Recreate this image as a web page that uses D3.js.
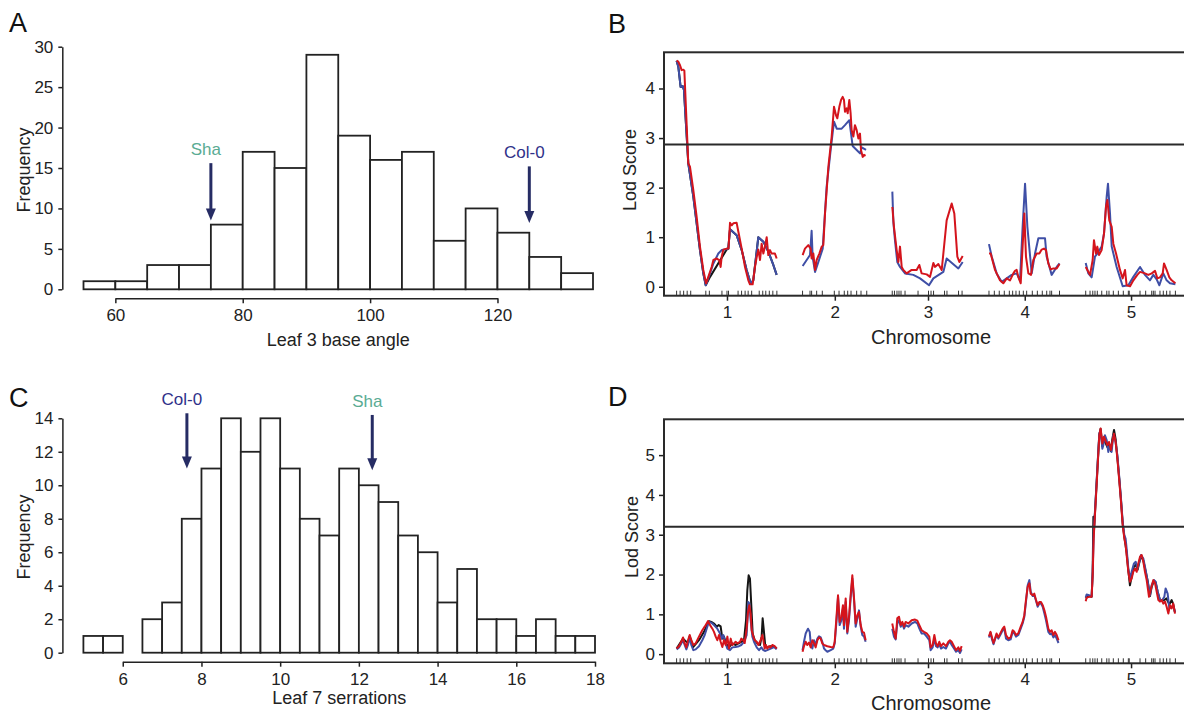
<!DOCTYPE html>
<html>
<head>
<meta charset="utf-8">
<script src="https://cdn.jsdelivr.net/npm/d3@7"></script>
<style>
  body { margin: 0; background: #fff; }
  svg { display: block; font-family: "Liberation Sans", Arial, Helvetica, sans-serif; }
</style>
</head>
<body>
<svg id="fig" width="1184" height="716"></svg>
<script>
// ---- histogram data ----
const angleBinStart = 55, angleBinWidth = 5;
const angleCounts = [1, 1, 3, 3, 8, 17, 15, 29, 19, 16, 17, 6, 10, 7, 4, 2];
const angleXTicks = [60, 80, 100, 120];
const angleYTicks = [0, 5, 10, 15, 20, 25, 30];
const angleArrows = [
  { name: "Sha", at: 75, from: 15.6, to: 8.5, color: "#5aab93" },
  { name: "Col-0", at: 125, from: 15.2, to: 8.2, color: "#2f3189" }
];

const serrBinStart = 5, serrBinWidth = 0.5;
const serrCounts = [1, 1, 0, 2, 3, 8, 11, 14, 12, 14, 11, 8, 7, 11, 10, 9, 7, 6, 3, 5, 2, 2, 1, 2, 1, 1];
const serrXTicks = [6, 8, 10, 12, 14, 16, 18];
const serrYTicks = [0, 2, 4, 6, 8, 10, 12, 14];
const serrArrows = [
  { name: "Col-0", at: 7.63, from: 14.3, to: 11.0, color: "#2f3189" },
  { name: "Sha", at: 12.34, from: 14.2, to: 10.9, color: "#5aab93" }
];

// ---- genetic map (cM) ----
const chrLen = [100, 64, 71, 71, 90];
const chrGap = 25;
const markers = [
  [0, 3.5, 7, 10.5, 14, 29, 32.5, 45, 50, 51.5, 61, 64.5, 68, 71, 74.5, 82, 85.5, 88.5, 92, 95.5, 99.5],
  [125, 132.4, 134, 139, 144.6, 156.5, 161.2, 166.4, 169.8, 173.1, 178.7, 183, 188.7],
  [214, 216.2, 218.7, 220.7, 222.7, 226.7, 239.6, 250, 252.5, 255, 265.9, 268.3, 279.8, 283.3],
  [310, 315.3, 320.2, 325.2, 330.2, 333.5, 336.8, 340.1, 344.1, 347.4, 353, 358, 362.9, 367.3, 370.5, 372.2, 380],
  [406, 410.3, 413, 415.2, 417.5, 421.9, 426.9, 429.1, 433.4, 438.4, 443.3, 448.3, 449.2, 459.9, 465.5, 471.5, 473.1, 474.8, 479.7, 483, 486.3, 489.6, 495]
];

// ---- LOD curves, panel B (per chromosome, [cM, LOD]) ----
const bBlack = [
  [[0,4.56],[1.7,4.44],[4,4.03],[6,4.05],[7.3,3.97],[11.6,2.49],[16.6,1.82],[19.9,1.28],[23.2,0.74],[26.5,0.27],[28.9,0.03],[33.2,0.2],[49.7,0.75],[51.3,0.77],[53,1.16],[59.6,1.04],[64.6,0.74],[69.5,0.34],[73.5,0.07],[76.1,0.13],[81.1,1.0],[86.1,0.91],[91,0.71],[96,0.44],[99.3,0.24]],
  [], [], [], []
];
const bBlue = [
  [[0,4.56],[1.7,4.44],[4,4.03],[6,4.05],[7.3,3.97],[11.6,2.49],[16.6,1.82],[19.9,1.28],[23.2,0.74],[26.5,0.27],[28.9,0.03],[33.2,0.27],[36.5,0.47],[41.4,0.67],[44.7,0.74],[48,0.75],[51.3,0.77],[53,1.16],[59.6,1.04],[64.6,0.74],[69.5,0.34],[73.5,0.07],[76.1,0.13],[81.1,1.0],[86.1,0.91],[91,0.71],[96,0.44],[99.3,0.24]],
  [[125.1,0.42],[129.1,0.54],[132.4,0.64],[134,1.13],[135,0.6],[137.4,0.3],[140.7,0.5],[145,0.77],[148.9,2.02],[152.9,2.76],[156.2,3.33],[158.9,3.19],[163.8,3.19],[167.1,3.26],[171.4,3.36],[174.7,2.84],[178.7,2.76],[182,2.69],[183.7,2.81],[188,2.76]],
  [[214.1,1.92],[215.1,1.31],[216.7,0.94],[219,0.5],[221.7,0.4],[226.7,0.27],[234.9,0.24],[241.6,0.17],[250.5,0.03],[254.8,0.17],[264.7,0.3],[268,0.57],[279.6,0.37],[283.9,0.5]],
  [[310,0.86],[312.7,0.61],[317.6,0.27],[322.6,0.1],[327.6,0.17],[332.5,0.24],[337.5,0.27],[340.8,0.13],[343.4,1.21],[345.8,2.08],[348.1,1.21],[352.4,0.27],[355.7,0.67],[359,0.98],[365.6,0.98],[367.2,0.61],[372.2,0.24],[377.2,0.4],[380,0.47]],
  [[406,0.48],[408.6,0.27],[411.9,0.19],[415.2,0.61],[417.5,0.67],[421.8,0.81],[424.2,1.08],[426.8,1.82],[428.1,2.08],[430.1,1.48],[431.8,0.81],[436.7,0.4],[442.7,0.01],[448.3,0.03],[453.3,0.2],[459.9,0.4],[464.8,0.24],[469.8,0.13],[473.1,0.24],[476.4,0.15],[479.1,0.03],[483,0.27],[486.3,0.13],[489.6,0.07],[495,0.05]]
];
const bRed = [
  [[0,4.56],[1.7,4.54],[3.4,4.47],[5,4.37],[6.7,4.38],[7.7,4.36],[11.6,2.49],[13.3,2.42],[16.6,1.95],[19.9,1.41],[23.2,0.81],[26.5,0.34],[29.2,0.07],[31.5,0.2],[34.8,0.4],[36.5,0.54],[39.8,0.57],[42.4,0.54],[43.7,0.4],[44.7,0.6],[46.4,0.75],[49.7,0.77],[51.5,0.77],[53,1.29],[54.7,1.24],[56.3,1.28],[59.6,1.29],[61.3,1.11],[64.6,0.77],[67.9,0.4],[71.2,0.13],[72.8,0.05],[75.5,0.05],[77.8,0.4],[79.5,0.6],[81.1,0.75],[82.8,0.54],[84.4,0.87],[86.1,0.67],[87.7,0.81],[89.4,1.0],[91,0.64],[92.7,0.74],[94.3,0.67],[97.6,0.67],[99.3,0.57]],
  [[125.1,0.64],[127.4,0.77],[130.7,0.84],[133,0.77],[134,0.57],[135.7,0.67],[137.4,0.34],[139,0.54],[141.7,0.67],[144,0.81],[145.6,0.84],[147.3,1.48],[150.6,2.42],[153.9,3.03],[156.2,3.63],[158.2,3.46],[159.5,3.4],[161.5,3.63],[163.2,3.77],[164.8,3.83],[166.1,3.77],[167.1,3.53],[168.8,3.6],[169.8,3.5],[171.4,3.77],[172.7,3.5],[173.7,3.16],[175.4,3.03],[177,3.26],[178.7,3.16],[180.4,2.99],[182,3.09],[183,2.76],[184.7,2.62],[186,2.66],[187.5,2.64]],
  [[214.1,1.61],[215.7,1.21],[218.4,0.74],[220.1,0.5],[221.7,0.81],[223.4,0.4],[225,0.34],[228.3,0.27],[233.3,0.34],[238.2,0.34],[240.9,0.44],[243.2,0.27],[248.2,0.25],[251.5,0.2],[254.8,0.48],[256.4,0.4],[259.7,0.46],[263.1,0.34],[268,1.34],[273,1.68],[275.6,1.48],[278.6,0.61],[280.6,0.5],[283.9,0.62]],
  [[310,0.67],[311.7,0.67],[316,0.34],[320.9,0.13],[324.2,0.07],[327.6,0.17],[330.9,0.13],[334.2,0.27],[335.8,0.32],[337.5,0.34],[339.1,0.2],[341.5,0.07],[343.4,0.81],[345.1,1.48],[346.7,0.61],[349.1,0.27],[351.7,0.24],[354,0.54],[357.3,0.67],[360,0.67],[362.3,0.75],[364.6,0.77],[366.6,0.74],[368.9,0.47],[371.2,0.35],[373.9,0.37],[377.2,0.37],[380,0.46]],
  [[406,0.4],[407.6,0.34],[410.3,0.24],[412.9,0.54],[414.2,0.94],[416.2,0.67],[417.5,0.81],[419.2,0.64],[421.8,0.74],[424.2,1.08],[426.1,1.61],[427.5,1.75],[429.4,1.34],[431.8,1.21],[433.4,0.87],[436.1,0.67],[440,0.34],[442.7,0.17],[445,0.34],[446.6,0.03],[450,0.01],[453.3,0.13],[457.2,0.24],[459.9,0.3],[464.8,0.27],[468.1,0.24],[471.5,0.27],[474.8,0.32],[477.1,0.17],[479.7,0.19],[482.4,0.27],[483.7,0.47],[486.3,0.34],[489,0.19],[491.3,0.13],[495,0.07]]
];

// ---- LOD curves, panel D ----
const dBlack = [
  [[0,0.14],[6.4,0.39],[11.3,0.27],[13,0.45],[16.6,0.18],[22.2,0.35],[27.2,0.56],[30.5,0.75],[32.2,0.83],[34.5,0.81],[37.1,0.77],[39.8,0.69],[41.8,0.73],[43.7,0.7],[45.4,0.39],[47,0.44],[49,0.27],[52,0.17],[55.3,0.27],[58.6,0.23],[62.9,0.29],[66.9,0.35],[68.9,0.85],[70.2,1.61],[71.5,1.98],[72.8,1.9],[74.2,1.19],[75.5,0.52],[77.5,0.35],[80.1,0.27],[82.8,0.23],[84.4,0.44],[85.4,0.9],[86.7,0.56],[88.1,0.18],[90,0.17],[93.4,0.2],[96.7,0.2],[99.3,0.14]],
  [], [], [],
  [[406,1.4],[409.3,1.46],[411.9,1.44],[412.9,2.07],[413.6,3.45],[414.2,3.1],[415.9,3.88],[417.9,4.8],[419.5,5.52],[420.8,5.66],[422.5,5.22],[424.1,5.4],[425.8,5.3],[427.5,5.2],[429.1,5.3],[431.1,5.1],[432.4,5.4],[434.1,5.63],[435.7,5.4],[437.4,4.95],[439.4,4.37],[441,3.87],[442.7,3.28],[444.3,2.95],[446.6,2.55],[448.3,2.1],[449.9,1.73],[451.6,1.95],[453.9,2.2],[455.6,2.25],[457.5,2.12],[459.2,2.3],[460.9,2.47],[463.2,2.35],[465.5,2.08],[467.5,1.84],[469.8,1.46],[471.4,1.68],[473.8,1.85],[475.4,1.8],[477.4,1.57],[479.7,1.36],[482,1.35],[484,1.36],[486,1.4],[489,1.25],[491.3,1.36],[492.9,1.25],[494.6,1.05]]
];
const dBlue = [
  [[0,0.12],[2.4,0.17],[4.7,0.27],[6.4,0.35],[8,0.23],[9.7,0.12],[11.3,0.23],[13,0.44],[14.6,0.23],[16.6,0.1],[18.9,0.12],[22.2,0.2],[25.5,0.35],[27.9,0.48],[30.5,0.69],[32.2,0.81],[34.5,0.79],[37.1,0.73],[40.4,0.64],[43.1,0.52],[44.7,0.39],[46.4,0.48],[48,0.31],[50.4,0.14],[53,0.1],[55.3,0.17],[58.6,0.18],[61.9,0.2],[64.2,0.23],[66.9,0.31],[69.5,0.48],[71.2,1.31],[72.2,1.27],[73.5,0.85],[75.2,0.44],[76.8,0.31],[79.5,0.17],[81.8,0.1],[84.1,0.17],[86.1,0.1],[87.7,0.08],[90,0.1],[93.4,0.14],[96.7,0.18],[99.3,0.12]],
  [[125,0.1],[126.4,0.31],[128.1,0.52],[130.4,0.64],[132.1,0.56],[133.1,0.27],[134.7,0.14],[136.4,0.35],[138,0.23],[139.7,0.39],[141.3,0.45],[143,0.42],[144.6,0.31],[146.3,0.14],[147.9,0.1],[149.6,0.06],[152.9,0.1],[155.5,0.14],[156.9,0.27],[158.9,0.9],[160.2,1.44],[161.8,0.73],[163.5,0.85],[165.1,1.15],[166.1,0.64],[167.8,1.31],[169.4,0.52],[171.1,0.85],[172.7,1.4],[174.4,1.9],[176.1,1.36],[177.7,0.69],[179.4,0.9],[181,1.1],[182.7,0.69],[184.3,0.48],[186,0.44],[187.6,0.31]],
  [[214,0.64],[215.7,0.44],[217.4,0.37],[219,0.77],[220.7,0.85],[222.4,0.69],[224,0.77],[225.7,0.64],[227.3,0.73],[230,0.69],[233.3,0.77],[236.6,0.81],[238.9,0.77],[240.9,0.64],[243.2,0.52],[245.5,0.52],[248.2,0.44],[250.8,0.35],[252.1,0.1],[254.1,0.17],[255.8,0.39],[257.4,0.2],[259.1,0.17],[260.7,0.25],[262.4,0.14],[264.7,0.18],[267.3,0.14],[269.7,0.27],[271.3,0.31],[273,0.23],[275.3,0.14],[277.3,0.06],[279.6,0.1],[281.2,0.03],[282.9,0.12]],
  [[310,0.42],[311.5,0.54],[313,0.37],[314.5,0.25],[316,0.37],[317.5,0.48],[319.3,0.39],[321.6,0.5],[323.6,0.6],[325.2,0.64],[326.9,0.39],[329.2,0.35],[331.5,0.37],[333.5,0.56],[335.2,0.52],[336.8,0.44],[339.1,0.48],[341.5,0.64],[343.4,0.77],[345.1,0.94],[346.7,1.31],[348.4,1.73],[350.1,1.86],[351.4,1.57],[353.4,1.46],[355,1.48],[356.7,1.34],[358.3,1.19],[360,1.27],[361.6,1.27],[363.3,1.19],[365,1.02],[366.6,0.85],[368.9,0.56],[370.6,0.5],[372.2,0.52],[373.9,0.42],[375.5,0.48],[377.2,0.39],[379,0.28]],
  [[406,1.42],[406.9,1.5],[409.3,1.48],[411.9,1.45],[412.9,2.07],[413.9,2.99],[414.5,3.28],[415.9,3.91],[417.9,4.83],[419.5,5.54],[420.8,5.63],[422.5,5.16],[423.5,5.25],[425.1,5.5],[426.8,5.38],[428.4,5.08],[430.1,5.25],[431.7,5.08],[433.4,5.5],[435.1,5.42],[437.4,5.0],[439.4,4.41],[441,3.91],[442.7,3.32],[444.3,2.99],[445.6,2.9],[446.6,2.65],[448.3,2.15],[449.9,1.9],[451.6,2.07],[453.9,2.28],[455.6,2.32],[457.5,2.15],[459.2,2.32],[460.9,2.49],[463.2,2.4],[465.5,2.11],[467.5,1.82],[469.8,1.48],[471.4,1.73],[473.8,1.86],[475.4,1.82],[477.4,1.57],[479.7,1.36],[482,1.36],[484,1.44],[485.3,1.65],[487.3,1.52],[489,1.15],[491.3,1.19],[492.9,1.19],[494.6,1.06]]
];
const dRed = [
  [[0,0.14],[2.4,0.2],[4.7,0.31],[6.4,0.42],[8,0.27],[9.7,0.17],[11.3,0.35],[13,0.48],[14.6,0.35],[16.6,0.23],[18.9,0.27],[22.2,0.44],[25.5,0.6],[27.9,0.69],[29.8,0.77],[31.2,0.83],[33.2,0.73],[35.5,0.64],[37.1,0.56],[38.8,0.44],[40.4,0.35],[42.1,0.48],[43.7,0.31],[45.4,0.18],[47,0.35],[48.7,0.23],[50.4,0.44],[52,0.14],[53.7,0.39],[55.3,0.23],[57,0.27],[58.6,0.31],[60.3,0.27],[62.9,0.31],[64.2,0.39],[66.2,0.35],[67.6,0.28],[69.5,0.64],[70.9,1.06],[72.2,1.23],[73.5,1.02],[74.5,0.6],[76.2,0.44],[77.5,0.35],[79.5,0.31],[81.1,0.23],[83.4,0.35],[85.1,0.48],[86.1,0.35],[87.4,0.14],[88.7,0.23],[90,0.14],[91.7,0.2],[93.4,0.17],[95,0.23],[97.3,0.2],[99.3,0.14]],
  [[125,0.06],[126.4,0.2],[128.1,0.31],[129.7,0.23],[131.4,0.29],[133.1,0.17],[134.7,0.35],[136.4,0.27],[138,0.17],[139.7,0.35],[141.3,0.42],[143,0.39],[144.6,0.27],[146.3,0.23],[149.6,0.2],[152.9,0.18],[155.5,0.17],[156.9,0.31],[158.9,1.02],[160.2,1.48],[161.8,0.81],[163.5,0.94],[165.1,1.23],[166.1,0.73],[167.8,1.4],[169.4,0.56],[171.1,0.94],[172.7,1.48],[174.4,1.98],[176.1,1.4],[177.7,0.77],[179.4,0.98],[181,1.06],[182.7,0.73],[184.3,0.56],[186,0.54],[187.6,0.35]],
  [[214,0.77],[215.7,0.56],[217.4,0.39],[219,0.9],[220.7,0.94],[222.4,0.73],[224,0.81],[225.7,0.69],[227.3,0.81],[230,0.77],[233.3,0.85],[236.6,0.87],[238.9,0.84],[240.9,0.73],[243.2,0.6],[245.5,0.56],[248.2,0.52],[250.8,0.44],[252.1,0.17],[254.1,0.23],[255.8,0.48],[257.4,0.27],[259.1,0.2],[260.7,0.31],[262.4,0.2],[264.7,0.27],[267.3,0.2],[269.7,0.31],[271.3,0.35],[273,0.31],[275.3,0.2],[277.3,0.1],[279.6,0.17],[281.2,0.08],[282.9,0.2]],
  [[310,0.45],[311.5,0.56],[313,0.42],[314.5,0.28],[316,0.39],[317.5,0.52],[319.3,0.42],[321.6,0.54],[323.6,0.64],[325.2,0.69],[326.9,0.48],[329.2,0.39],[331.5,0.42],[333.5,0.6],[335.2,0.56],[336.8,0.48],[339.1,0.52],[341.5,0.69],[343.4,0.81],[345.1,0.98],[346.7,1.36],[348.4,1.69],[350.1,1.78],[351.4,1.52],[353.4,1.48],[355,1.52],[356.7,1.36],[358.3,1.23],[360,1.31],[361.6,1.31],[363.3,1.23],[365,1.1],[366.6,0.94],[368.9,0.64],[370.6,0.56],[372.2,0.6],[373.9,0.48],[375.5,0.56],[377.2,0.48],[379,0.35]],
  [[406,1.33],[406.9,1.42],[409.3,1.44],[411.9,1.44],[412.9,1.98],[413.9,2.9],[414.5,3.2],[415.9,3.83],[417.9,4.75],[419.5,5.5],[420.8,5.67],[422.5,5.29],[424.1,5.46],[425.8,5.35],[427.5,5.25],[429.1,5.33],[431.1,5.13],[432.4,5.33],[434.1,5.54],[435.7,5.33],[437.4,4.92],[439.4,4.33],[441,3.83],[442.7,3.24],[444.3,2.91],[445.6,2.74],[446.6,2.49],[448.3,2.07],[449.9,1.82],[451.6,1.9],[453.2,2.07],[454.9,2.15],[456.6,2.07],[458.2,2.28],[459.9,2.45],[461.5,2.49],[463.2,2.32],[464.8,2.07],[466.5,1.86],[468.8,1.44],[470.8,1.65],[473.1,1.86],[474.8,1.78],[476.4,1.57],[478.1,1.36],[479.7,1.32],[481.4,1.36],[483,1.27],[484.7,1.32],[486.3,1.19],[488,1.02],[489.6,1.23],[491.3,1.15],[492.9,1.27],[494.6,1.02]]
];
const lodThresholdB = 2.87;
const lodThresholdD = 3.2;
const lodTicksB = [0, 1, 2, 3, 4];
const lodTicksD = [0, 1, 2, 3, 4, 5];

const INK = "#222";
const svg = d3.select("#fig");

function panelLetter(txt, x, y) {
  svg.append("text").attr("x", x).attr("y", y)
    .attr("font-size", "27px").attr("fill", "#111").text(txt);
}

function drawHist(o) {
  const g = svg.append("g");
  const x = d3.scaleLinear().domain(o.xDomain).range(o.xRange);
  const y = d3.scaleLinear().domain(o.yDomain).range(o.yRange);

  // bars
  g.selectAll("rect.bar")
    .data(o.counts)
    .enter().append("rect")
    .attr("class", "bar")
    .attr("x", (d, i) => x(o.binStart + i * o.binWidth))
    .attr("width", x(o.binStart + o.binWidth) - x(o.binStart))
    .attr("y", d => y(d))
    .attr("height", d => y(0) - y(d))
    .attr("fill", "#fff")
    .attr("stroke", INK)
    .attr("stroke-width", 1.8);

  // x axis only spans the tick range, like R
  const xAxisScale = d3.scaleLinear()
    .domain(d3.extent(o.xTicks))
    .range(d3.extent(o.xTicks).map(x));
  g.append("g")
    .attr("transform", `translate(0,${o.axisY})`)
    .call(d3.axisBottom(xAxisScale).tickValues(o.xTicks).tickFormat(d3.format("d"))
      .tickSize(5).tickPadding(6).tickSizeOuter(0))
    .call(a => a.selectAll("text").attr("font-size", "17px").attr("fill", INK).attr("font-family", null))
    .call(a => a.selectAll("path,line").attr("stroke", INK).attr("stroke-width", 1.5));

  // y axis
  g.append("g")
    .attr("transform", `translate(${o.yAxisX},0)`)
    .call(d3.axisLeft(y).tickValues(o.yTicks).tickFormat(d3.format("d"))
      .tickSize(4).tickPadding(5).tickSizeOuter(0))
    .call(a => a.selectAll("text").attr("font-size", "17px").attr("fill", INK).attr("font-family", null))
    .call(a => a.selectAll("path,line").attr("stroke", INK).attr("stroke-width", 1.5));

  // labels
  g.append("text")
    .attr("transform", `translate(${o.yLabelX},${o.yLabelY}) rotate(-90)`)
    .attr("text-anchor", "middle").attr("font-size", "18px").attr("fill", INK)
    .text("Frequency");
  g.append("text")
    .attr("x", x((o.xDomain[0] + o.xDomain[1]) / 2)).attr("y", o.xLabelY)
    .attr("text-anchor", "middle").attr("font-size", "18px").attr("fill", INK)
    .text(o.xLabel);

  // parent arrows
  o.arrows.forEach(a => {
    const ax = x(a.at), y1 = y(a.from), y2 = y(a.to);
    g.append("line")
      .attr("x1", ax).attr("x2", ax).attr("y1", y1).attr("y2", y2 - 10)
      .attr("stroke", "#262c64").attr("stroke-width", 3);
    g.append("path")
      .attr("d", `M${ax - 5},${y2 - 12}L${ax + 5},${y2 - 12}L${ax},${y2}Z`)
      .attr("fill", "#262c64");
    g.append("text")
      .attr("x", ax - 5).attr("y", y1 - 8)
      .attr("text-anchor", "middle").attr("font-size", "17px")
      .attr("fill", a.color).text(a.name);
  });
}

function drawLod(o) {
  const g = svg.append("g");
  const x = d3.scaleLinear().domain([-chrGap / 2, d3.sum(chrLen) + chrGap * 4 + chrGap / 2]).range([664, 1189]);
  const y = d3.scaleLinear().domain(o.yDomain).range(o.yRange);

  let acc = 0;
  const mids = chrLen.map(L => { const m = acc + L / 2; acc += L + chrGap; return m; });

  // x axis ticks at chromosome centres
  g.append("g")
    .attr("transform", `translate(0,${o.yRange[0]})`)
    .call(d3.axisBottom(x).tickValues(mids).tickFormat((d, i) => i + 1).tickSize(5).tickPadding(5))
    .call(a => a.select(".domain").remove())
    .call(a => a.selectAll("text").attr("font-size", "17px").attr("fill", INK).attr("font-family", null))
    .call(a => a.selectAll("line").attr("stroke", INK).attr("stroke-width", 1.5));

  g.append("g")
    .attr("transform", "translate(664,0)")
    .call(d3.axisLeft(y).tickValues(o.yTicks).tickFormat(d3.format("d")).tickSize(5).tickPadding(4))
    .call(a => a.select(".domain").remove())
    .call(a => a.selectAll("text").attr("font-size", "17px").attr("fill", INK).attr("font-family", null))
    .call(a => a.selectAll("line").attr("stroke", INK).attr("stroke-width", 1.5));

  // marker rug
  g.selectAll("line.rug")
    .data(markers.flat())
    .enter().append("line")
    .attr("class", "rug")
    .attr("x1", d => x(d)).attr("x2", d => x(d))
    .attr("y1", o.yRange[0] - 5).attr("y2", o.yRange[0])
    .attr("stroke", "#333").attr("stroke-width", 1);

  // curves
  const line = d3.line().x(d => x(d[0])).y(d => y(d[1]));
  [[o.black, "#151515"], [o.blue, "#3f4fa6"], [o.red, "#d4141c"]].forEach(([series, col]) => {
    g.selectAll(null)
      .data(series.filter(s => s.length))
      .enter().append("path")
      .attr("d", line)
      .attr("fill", "none")
      .attr("stroke", col)
      .attr("stroke-width", 2)
      .attr("stroke-linejoin", "round");
  });

  // threshold
  g.append("line")
    .attr("x1", x.range()[0]).attr("x2", x.range()[1])
    .attr("y1", y(o.threshold)).attr("y2", y(o.threshold))
    .attr("stroke", "#2a2a2a").attr("stroke-width", 2);

  // box
  g.append("rect")
    .attr("x", x.range()[0]).attr("y", o.yRange[1])
    .attr("width", x.range()[1] - x.range()[0])
    .attr("height", o.yRange[0] - o.yRange[1])
    .attr("fill", "none").attr("stroke", "#2a2a2a").attr("stroke-width", 2);

  g.append("text")
    .attr("transform", `translate(${o.yLabelX},${o.yLabelY}) rotate(-90)`)
    .attr("text-anchor", "middle").attr("font-size", "18px").attr("fill", INK)
    .text("Lod Score");
  g.append("text")
    .attr("x", 931).attr("y", o.xLabelY)
    .attr("text-anchor", "middle").attr("font-size", "20px").attr("fill", INK)
    .text("Chromosome");
}

drawHist({
  xDomain: [55, 135], xRange: [83.5, 593],
  yDomain: [0, 30], yRange: [289.3, 46.7],
  binStart: angleBinStart, binWidth: angleBinWidth, counts: angleCounts,
  xTicks: angleXTicks, yTicks: angleYTicks,
  axisY: 298.3, yAxisX: 62.3,
  xLabel: "Leaf 3 base angle", xLabelY: 346,
  yLabelX: 30, yLabelY: 170,
  arrows: angleArrows
});

drawHist({
  xDomain: [5, 18], xRange: [83.4, 595],
  yDomain: [0, 14], yRange: [652.7, 418.3],
  binStart: serrBinStart, binWidth: serrBinWidth, counts: serrCounts,
  xTicks: serrXTicks, yTicks: serrYTicks,
  axisY: 661.7, yAxisX: 62.4,
  xLabel: "Leaf 7 serrations", xLabelY: 704,
  yLabelX: 30, yLabelY: 537,
  arrows: serrArrows
});

drawLod({
  yDomain: [-0.18, 4.73], yRange: [295.7, 52.3], yTicks: lodTicksB,
  threshold: lodThresholdB,
  black: bBlack, blue: bBlue, red: bRed,
  yLabelX: 636, yLabelY: 170, xLabelY: 344
});

drawLod({
  yDomain: [-0.23, 5.9], yRange: [663.3, 419.3], yTicks: lodTicksD,
  threshold: lodThresholdD,
  black: dBlack, blue: dBlue, red: dRed,
  yLabelX: 638, yLabelY: 537, xLabelY: 710
});

panelLetter("A", 9, 32);
panelLetter("B", 608, 33);
panelLetter("C", 9, 407);
panelLetter("D", 608, 406);
</script>
</body>
</html>
